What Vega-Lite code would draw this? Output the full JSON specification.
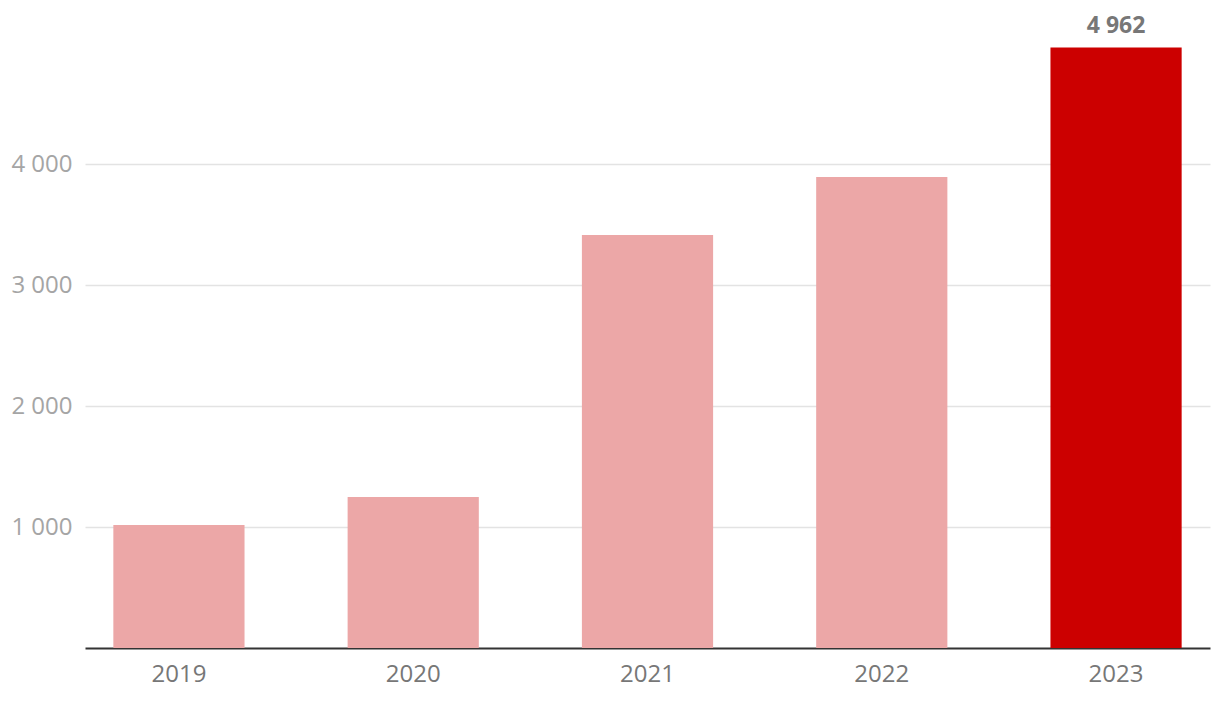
{
  "$schema": "https://vega.github.io/schema/vega-lite/v6.json",
  "width": 1125,
  "height": 605,
  "autosize": {"type": "none"},
  "padding": {"left": 85, "top": 43, "right": 10, "bottom": 54},
  "config": {
    "view": {"stroke": null},
    "font": "Open Sans",
    "locale": {"number": {"decimal": ",", "thousands": " ", "grouping": [3], "currency": ["", " €"]}}
  },
  "data": {
    "values": [
      {"year": "2019", "value": 1016, "highlight": "no"},
      {"year": "2020", "value": 1248, "highlight": "no"},
      {"year": "2021", "value": 3413, "highlight": "no"},
      {"year": "2022", "value": 3893, "highlight": "no"},
      {"year": "2023", "value": 4962, "highlight": "yes"}
    ]
  },
  "encoding": {
    "x": {
      "field": "year", "type": "nominal",
      "scale": {"paddingInner": 0.44, "paddingOuter": 0.121},
      "axis": {"title": null, "labelAngle": 0, "labelFontSize": 24, "labelColor": "#777777", "labelPadding": 14, "ticks": false, "domainColor": "#333333", "domainWidth": 2, "grid": false}
    },
    "y": {
      "field": "value", "type": "quantitative",
      "scale": {"domain": [0, 5000], "nice": false},
      "axis": {"title": null, "values": [1000, 2000, 3000, 4000], "format": ",d", "labelFontSize": 24, "labelColor": "#a5a5a5", "labelPadding": 13, "ticks": false, "domain": false, "gridColor": "#e3e3e3", "gridWidth": 1.5}
    }
  },
  "layer": [
    {
      "mark": {"type": "bar"},
      "encoding": {
        "color": {"field": "highlight", "type": "nominal", "scale": {"domain": ["no", "yes"], "range": ["#eca7a7", "#cc0000"]}, "legend": null}
      }
    },
    {
      "transform": [{"filter": "datum.highlight == 'yes'"}],
      "mark": {"type": "text", "baseline": "alphabetic", "dy": -15, "fontSize": 23, "fontWeight": "bold", "color": "#777777"},
      "encoding": {"text": {"field": "value", "type": "quantitative", "format": ",d"}}
    }
  ]
}
